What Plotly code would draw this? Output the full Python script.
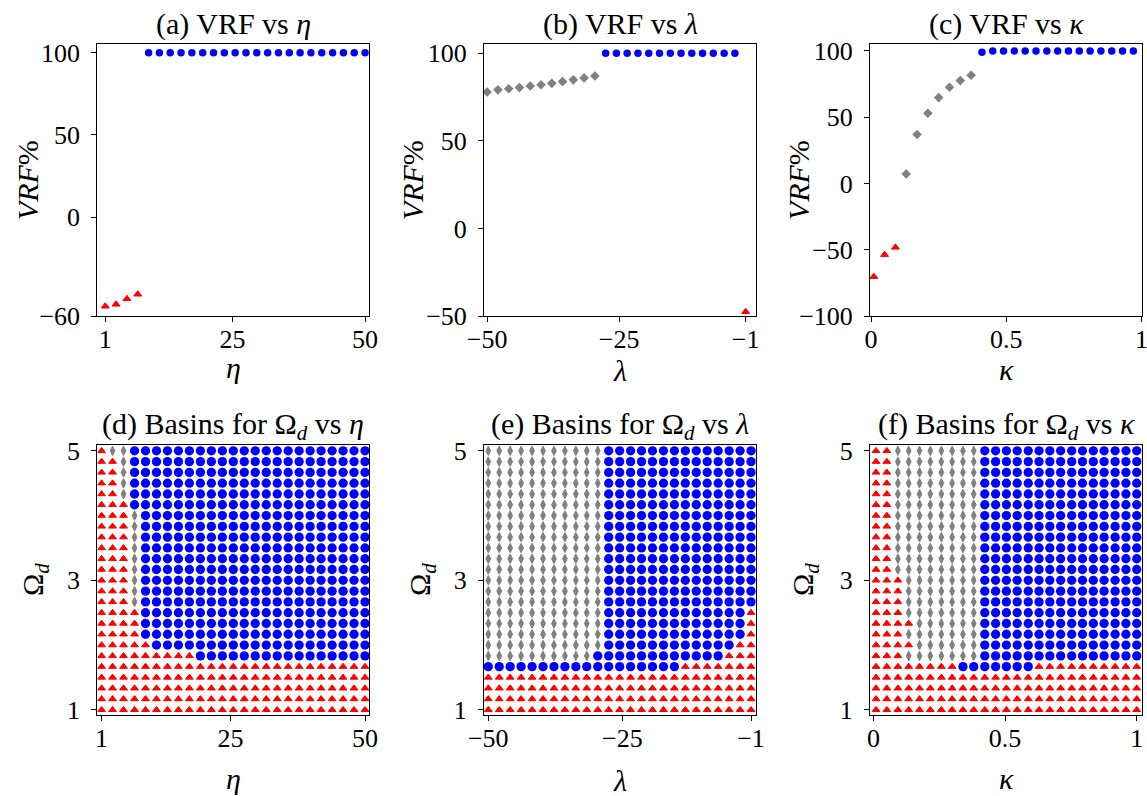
import plotly.graph_objects as go

# ---------------- data ----------------
# parameter grids
eta = [1.00, 3.04, 5.08, 7.13, 9.17, 11.21, 13.25, 15.29, 17.33, 19.38, 21.42, 23.46, 25.50,
       27.54, 29.58, 31.63, 33.67, 35.71, 37.75, 39.79, 41.83, 43.88, 45.92, 47.96, 50.00]
lam = [-50.00, -47.96, -45.92, -43.88, -41.83, -39.79, -37.75, -35.71, -33.67, -31.63, -29.58,
       -27.54, -25.50, -23.46, -21.42, -19.38, -17.33, -15.29, -13.25, -11.21, -9.17, -7.13,
       -5.08, -3.04, -1.00]
kappa_vrf = [0.01, 0.05, 0.09, 0.13, 0.17, 0.21, 0.25, 0.29, 0.33, 0.37, 0.41, 0.45, 0.49,
             0.53, 0.57, 0.61, 0.65, 0.69, 0.73, 0.77, 0.81, 0.85, 0.89, 0.93, 0.97]
kappa_grid = [0.010, 0.051, 0.093, 0.134, 0.175, 0.216, 0.258, 0.299, 0.340, 0.381, 0.423,
              0.464, 0.505, 0.546, 0.588, 0.629, 0.670, 0.711, 0.753, 0.794, 0.835, 0.876,
              0.918, 0.959, 1.000]
omega = [5.000, 4.833, 4.667, 4.500, 4.333, 4.167, 4.000, 3.833, 3.667, 3.500, 3.333, 3.167,
         3.000, 2.833, 2.667, 2.500, 2.333, 2.167, 2.000, 1.833, 1.667, 1.500, 1.333, 1.167, 1.000]

# VRF (%) per parameter value and its attractor class (R / G / B)
vrf_eta = [-54.1, -52.9, -49.5, -46.8] + [100.0] * 21
cls_eta = "RRRR" + "B" * 21
vrf_lam = [77.9, 79.1, 79.7, 80.4, 81.3, 82.0, 82.8, 83.8, 84.8, 85.9, 87.0] + [100.0] * 13 + [-47.6]
cls_lam = "G" * 11 + "B" * 13 + "R"
vrf_kap = [-70.3, -53.7, -48.2, 7.2, 36.9, 53.0, 64.8, 72.6, 77.6, 81.6, 99.0] + [100.0] * 14
cls_kap = "RRR" + "G" * 7 + "B" * 15

# basin classes, one string per Omega_d row (top row = 5, bottom row = 1)
basin_eta = (["R" + "GG" + "B" * 22]
             + ["RR" + "G" + "B" * 22] * 4
             + ["RRR" + "B" * 22]
             + ["RRR" + "G" + "B" * 21] * 9
             + ["R" * 4 + "B" * 21] * 3
             + ["R" * 5 + "B" * 20]
             + ["R" * 9 + "B" * 16]
             + ["R" * 25] * 5)
basin_lam = (["G" * 11 + "B" * 14] * 15
             + ["G" * 11 + "B" * 13 + "R"] * 3
             + ["G" * 11 + "B" * 12 + "RR"]
             + ["G" * 10 + "B" * 12 + "RRR"]
             + ["B" * 18 + "R" * 7]
             + ["R" * 25] * 4)
basin_kap = (["RR" + "G" * 8 + "B" * 15] * 12
             + ["RRR" + "G" * 7 + "B" * 15] * 4
             + ["R" * 4 + "G" * 6 + "B" * 15]
             + ["RRR" + "G" * 7 + "B" * 15]
             + ["R" * 4 + "G" * 6 + "B" * 15]
             + ["RRR" + "G" * 7 + "B" * 15]
             + ["R" * 8 + "B" * 7 + "R" * 10]
             + ["R" * 25] * 4)

# ---------------- styling ----------------
W, H = 1147, 796
FONT = "Liberation Serif"
COLORS = {"R": "#ff0000", "G": "#808080", "B": "#0000ff"}
# (symbol, size, outline width) per class, for the VRF curves and the basin grids
MARK_TOP = {"R": ("triangle-up", 7.0, 1.0), "G": ("diamond", 7.4, 0.0), "B": ("circle", 7.5, 0.0)}
MARK_GRID = {"R": ("triangle-up", 6.8, 1.0), "G": ("diamond-tall", 6.8, 1.0), "B": ("circle", 9.3, 0.0)}


def px_x(p):
    return p / W


def px_y(p):
    return 1 - p / H


fig = go.Figure()


def add_scatter(xs, ys, classes, axis_idx, marks):
    for c in "RGB":
        px_ = [x for x, k in zip(xs, classes) if k == c]
        py_ = [y for y, k in zip(ys, classes) if k == c]
        if not px_:
            continue
        sym, size, lw = marks[c]
        fig.add_trace(go.Scatter(
            x=px_, y=py_, mode="markers", showlegend=False, hoverinfo="skip",
            xaxis="x" if axis_idx == 1 else f"x{axis_idx}",
            yaxis="y" if axis_idx == 1 else f"y{axis_idx}",
            marker=dict(symbol=sym, color=COLORS[c], size=size,
                        line=dict(width=lw, color=COLORS[c])),
        ))


def add_basin(xs, rows, axis_idx):
    gx, gy, gc = [], [], []
    for om, row in zip(omega, rows):
        for x, c in zip(xs, row):
            gx.append(x)
            gy.append(om)
            gc.append(c)
    add_scatter(gx, gy, gc, axis_idx, MARK_GRID)


add_scatter(eta, vrf_eta, cls_eta, 1, MARK_TOP)
add_scatter(lam, vrf_lam, cls_lam, 2, MARK_TOP)
add_scatter(kappa_vrf, vrf_kap, cls_kap, 3, MARK_TOP)
add_basin(eta, basin_eta, 4)
add_basin(lam, basin_lam, 5)
add_basin(kappa_grid, basin_kap, 6)

# panel boxes in pixels: (left, right, top, bottom)
boxes = [
    (97.3, 369.3, 44.3, 316.0),
    (484.0, 756.0, 44.3, 316.0),
    (870.0, 1142.0, 44.3, 316.0),
    (97.3, 369.3, 445.0, 715.0),
    (484.0, 756.0, 445.0, 715.0),
    (870.0, 1142.0, 445.0, 715.0),
]
xranges = [[-0.5, 50.8], [-50.6, 0.96], [-0.004, 1.002],
           [0.2, 50.8], [-50.8, -0.07], [-0.013, 1.02]]
yranges = [[-60, 105.1], [-50, 105.1], [-100, 105],
           [0.92, 5.09], [0.92, 5.09], [0.92, 5.09]]
xticks = [([1, 25, 50], ["1", "25", "50"]),
          ([-50, -25, -1], ["\u221250", "\u221225", "\u22121"]),
          ([0, 0.5, 1], ["0", "0.5", "1"])] * 2
yticks = [([-60, 0, 50, 100], ["\u221260", "0", "50", "100"]),
          ([-50, 0, 50, 100], ["\u221250", "0", "50", "100"]),
          ([-100, -50, 0, 50, 100], ["\u2212100", "\u221250", "0", "50", "100"]),
          ([1, 3, 5], ["1", "3", "5"]),
          ([1, 3, 5], ["1", "3", "5"]),
          ([1, 3, 5], ["1", "3", "5"])]

TICKFONT = dict(family=FONT, size=26, color="black")
axis_common = dict(showgrid=False, zeroline=False, showline=True, linecolor="black",
                   linewidth=1, mirror=True, ticks="outside", ticklen=5, tickwidth=1,
                   tickcolor="black", automargin=False, ticklabeloverflow="allow")

layout = {}
for i, (l, r, t, b) in enumerate(boxes, start=1):
    xa = "xaxis" if i == 1 else f"xaxis{i}"
    ya = "yaxis" if i == 1 else f"yaxis{i}"
    layout[xa] = dict(axis_common, domain=[px_x(l), px_x(r)], range=xranges[i - 1],
                      tickvals=xticks[i - 1][0], ticktext=xticks[i - 1][1],
                      tickfont=TICKFONT,
                      anchor="y" if i == 1 else f"y{i}", ticklabelstandoff=-5)
    layout[ya] = dict(axis_common, domain=[px_y(b), px_y(t)], range=yranges[i - 1],
                      tickvals=yticks[i - 1][0], ticktext=yticks[i - 1][1],
                      tickfont=TICKFONT,
                      anchor="x" if i == 1 else f"x{i}", ticklabelstandoff=6)

titles = ["(a) VRF vs <i>\u03b7</i>", "(b) VRF vs <i>\u03bb</i>", "(c) VRF vs <i>\u03ba</i>",
          "(d) Basins for \u03a9<sub><i>d</i></sub> vs <i>\u03b7</i>",
          "(e) Basins for \u03a9<sub><i>d</i></sub> vs <i>\u03bb</i>",
          "(f) Basins for \u03a9<sub><i>d</i></sub> vs <i>\u03ba</i>"]
xtitles = ["<i>\u03b7</i>", "<i>\u03bb</i>", "<i>\u03ba</i>"] * 2
ytitles = ["<i>VRF</i>%"] * 3 + ["\u03a9<sub><i>d</i></sub>"] * 3
title_y = [24, 24, 24, 426, 426, 426]
xtitle_y = [367, 371, 369, 778, 780, 778]
ytitle_x = [27, 412, 798, 35, 422, 805]

annotations = []
for i, (l, r, t, b) in enumerate(boxes):
    cx = (l + r) / 2
    annotations.append(dict(text=titles[i], x=px_x(cx), y=px_y(title_y[i]), xref="paper",
                            yref="paper", showarrow=False, xanchor="center", yanchor="middle",
                            font=dict(family=FONT, size=30, color="black")))
    annotations.append(dict(text=xtitles[i], x=px_x(cx), y=px_y(xtitle_y[i]), xref="paper",
                            yref="paper", showarrow=False, xanchor="center", yanchor="middle",
                            font=dict(family=FONT, size=30, color="black")))
    annotations.append(dict(text=ytitles[i], x=px_x(ytitle_x[i]), y=px_y((t + b) / 2),
                            xref="paper", yref="paper", showarrow=False, textangle=-90,
                            xanchor="center", yanchor="middle",
                            font=dict(family=FONT, size=30, color="black")))

fig.update_layout(**layout)
fig.update_layout(width=W, height=H, margin=dict(l=0, r=0, t=0, b=0),
                  paper_bgcolor="white", plot_bgcolor="white", annotations=annotations)

fig.write_html("out.html")
